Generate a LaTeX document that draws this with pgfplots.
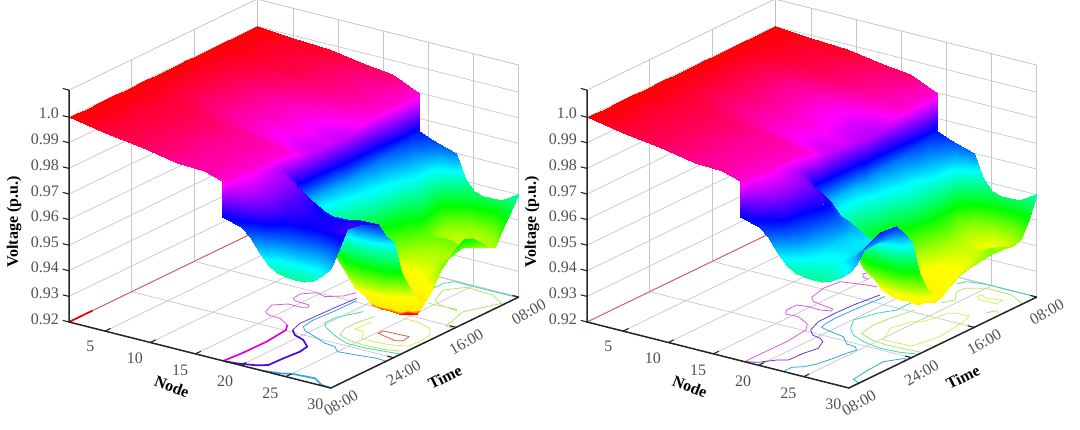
\documentclass[border=0pt]{standalone}
\usepackage{fontspec}
\setmainfont{Liberation Serif}
\usepackage{pgfplots}
\pgfplotsset{compat=1.18}
\definecolor{cMag}{RGB}{224,90,224}
\definecolor{cMagT}{RGB}{230,0,210}
\definecolor{cVio}{RGB}{100,50,225}
\definecolor{cVioT}{RGB}{70,10,225}
\definecolor{cCya}{RGB}{50,165,225}
\definecolor{cTea}{RGB}{70,215,175}
\definecolor{cLim}{RGB}{170,232,105}
\definecolor{cYel}{RGB}{215,236,95}
\definecolor{cRed}{RGB}{225,85,85}
\definecolor{tk}{RGB}{80,80,80}
\pgfplotsset{panel/.style={
  anchor=origin, clip=false, axis lines=box,
  x={(9.03pt,-2.276pt)}, y={(7.83pt,3.79pt)}, z={(0pt,2560pt)},
  xmin=1,xmax=30,ymin=0,ymax=24,zmin=.92,zmax=1.0106,
  xtick={5,10,15,20,25,30}, xticklabels={5,10,15,20,25,30},
  ytick={0,8,16,24}, yticklabels={08:00,24:00,16:00,08:00},
  ztick={.92,.93,.94,.95,.96,.97,.98,.99,1}, zticklabels={0.92,0.93,0.94,0.95,0.96,0.97,0.98,0.99,1.0},
  grid=major, major grid style={draw=black!22,line width=.7pt},
  axis line style={draw=black!25,line width=.7pt},
  major tick length=0pt,
  tick label style={font=\fontsize{16}{16}\selectfont,text=tk},
  xticklabel style={xshift=-9pt,yshift=-6pt},
  yticklabel style={rotate=30,yshift=-9pt},
  zticklabel style={xshift=-6.5pt,yshift=5pt},
  label style={font=\fontsize{16}{16}\selectfont\bfseries},
  xlabel=Node, ylabel=Time, zlabel={Voltage (p.u.)},
  xlabel style={at={(axis cs:18.28,-6.78,.92)},anchor=center,rotate=-21},
  ylabel style={at={(axis cs:36.65,6.9,.92)},anchor=center,rotate=-63},
  zlabel style={at={(axis cs:-3,-2.4,.959)},anchor=center,rotate=0},
  colormap={hsvr}{rgb255(0)=(255,0,0) rgb255(30)=(255,0,0) rgb255(50)=(255,235,0) rgb255(121)=(255,255,0) rgb255(242)=(0,255,0) rgb255(363)=(0,255,255) rgb255(484)=(0,0,255) rgb255(605)=(255,0,255) rgb255(725)=(255,0,0)},
  point meta min=.9275, point meta max=1,
},
sf/.style={surf,shader=interp,z buffer=sort,mesh/rows=23,mesh/cols=18,opacity=1},
cl/.style={line width=.8pt,no marks,line join=round},
ct/.style={line width=1.7pt,no marks,line join=round}}
\newcommand\deco{%
 \draw[black!85,line width=1.5pt] (axis cs:1,0,1.0106)--(axis cs:1,0,.92)--(axis cs:30,0,.92)--(axis cs:30,24,.92);
 \draw[black!85,line width=1.1pt] (axis cs:5,0,.92)--(axis cs:5,.7,.92) (axis cs:10,0,.92)--(axis cs:10,.7,.92) (axis cs:15,0,.92)--(axis cs:15,.7,.92) (axis cs:20,0,.92)--(axis cs:20,.7,.92) (axis cs:25,0,.92)--(axis cs:25,.7,.92)
 (axis cs:30,8,.92)--(axis cs:29.3,8,.92) (axis cs:30,16,.92)--(axis cs:29.3,16,.92) (axis cs:30,24,.92)--(axis cs:29.3,24,.92)
 (axis cs:1,0,.92)--(axis cs:.3,0,.92) (axis cs:1,0,.93)--(axis cs:.3,0,.93) (axis cs:1,0,.94)--(axis cs:.3,0,.94) (axis cs:1,0,.95)--(axis cs:.3,0,.95) (axis cs:1,0,.96)--(axis cs:.3,0,.96) (axis cs:1,0,.97)--(axis cs:.3,0,.97) (axis cs:1,0,.98)--(axis cs:.3,0,.98) (axis cs:1,0,.99)--(axis cs:.3,0,.99) (axis cs:1,0,1)--(axis cs:.3,0,1) (axis cs:1,0,1.0106)--(axis cs:.3,0,1.0106);
}
\begin{document}
\begin{tikzpicture}[x=1pt,y=1pt]
\useasboundingbox (0,0) rectangle (1080,429);
\begin{axis}[panel,at={(69pt,107pt)}]
\addplot3[cl,cRed] table[row sep=\\]{x y z\\1 0 .92\\1 24 .92\\};
\addplot3[ct,red!90!black] table[row sep=\\]{x y z\\1 0 .92\\1 3 .92\\};
\addplot3[ct,cMagT] table[row sep=\\]{x y z\\18.09 0 .92\\18.3 2.3 .92\\18.35 5.24 .92\\18 8.1 .92\\17.35 9.03 .92\\};
\addplot3[cl,cMag] table[row sep=\\]{x y z\\17.35 9.03 .92\\15.81 9.87 .92\\14.46 9.93 .92\\13.76 10.39 .92\\13.2 11.81 .92\\14.26 12.71 .92\\15.73 12.72 .92\\16.22 13.01 .92\\15.92 13.45 .92\\14.25 13.58 .92\\13.78 13.92 .92\\13.6 14.96 .92\\14.61 15.92 .92\\15.82 15.59 .92\\17.06 16.51 .92\\17.53 17.67 .92\\};
\addplot3[ct,cVioT] table[row sep=\\]{x y z\\18.3 0 .92\\19.43 .16 .92\\21.19 .69 .92\\21.99 1.26 .92\\22.08 3.07 .92\\22.28 4.95 .92\\22.06 6.14 .92\\20.77 7.13 .92\\19.41 7.62 .92\\18.49 8.39 .92\\};
\addplot3[cl,cVio] table[row sep=\\]{x y z\\18.49 8.39 .92\\18.02 9.87 .92\\18.1 11.68 .92\\18.19 13.93 .92\\18.39 16.69 .92\\};
\addplot3[ct,cCya] table[row sep=\\]{x y z\\22.38 0 .92\\24.08 .32 .92\\25.16 .79 .92\\27.39 .99 .92\\28.88 .12 .92\\30 0 .92\\};
\addplot3[cl,cCya] table[row sep=\\]{x y z\\18.74 16.28 .92\\18.69 13.35 .92\\18.49 11.04 .92\\18.76 9.44 .92\\19.49 8.82 .92\\21.12 8.21 .92\\22.85 7.5 .92\\24.08 7.35 .92\\25 6.58 .92\\26.91 6.85 .92\\28.87 7.16 .92\\30 7.05 .92\\};
\addplot3[cl,cTea] table[row sep=\\]{x y z\\20.87 14.66 .92\\19.79 12.52 .92\\19.74 11.08 .92\\20.51 10.31 .92\\22.42 9.26 .92\\24.43 8.44 .92\\26.64 8.45 .92\\28.59 8.74 .92\\29.91 8.93 .92\\};
\addplot3[cl,cTea] table[row sep=\\]{x y z\\22.46 21.77 .92\\22.44 23.08 .92\\23.04 23.88 .92\\24.73 23.84 .92\\29.88 23.86 .92\\};
\addplot3[cl,cLim] table[row sep=\\]{x y z\\22.47 14.31 .92\\22.05 12.46 .92\\22.05 10.97 .92\\22.69 9.6 .92\\24.27 9.05 .92\\25.9 8.89 .92\\28 9 .92\\29.46 9.45 .92\\};
\addplot3[cl,cYel] table[row sep=\\]{x y z\\23 13.3 .92\\22.93 11.24 .92\\23.89 11.2 .92\\24.76 9.96 .92\\26.12 9.9 .92\\27.96 10.12 .92\\29.32 10.67 .92\\29.52 11.94 .92\\29.24 13.53 .92\\28.24 14.69 .92\\26.27 15.27 .92\\24.79 15.25 .92\\};
\addplot3[cl,cRed] table[row sep=\\]{x y z\\25.23 11.56 .92\\25.24 12.19 .92\\27.98 12.34 .92\\28.16 11.38 .92\\27.55 11.02 .92\\25.23 11.56 .92\\};
\addplot3[cl,cLim] table[row sep=\\]{x y z\\24.36 18.96 .92\\27.32 19.16 .92\\27.52 18.92 .92\\25.46 19.18 .92\\24.34 19.83 .92\\23.44 21.92 .92\\24.74 23.4 .92\\27.78 23.21 .92\\29.7 22.16 .92\\28.16 19.04 .92\\29.05 15.79 .92\\30 15.7 .92\\};
\addplot3[sf] table[row sep=\\]{x y z\\
1 0 1\\5 0 .9972\\9 0 .9955\\13 0 .9927\\16 0 .9925\\17.9 0 .99\\17.9 0 .976\\20 0 .974\\21 0 .971\\22 0 .966\\23 0 .962\\24 0 .9595\\25 0 .959\\26 0 .9587\\27 0 .9587\\28 0 .96\\29 0 .963\\30 0 .967\\
1 1 1\\5 1 .9975\\9 1 .9957\\13 1 .9932\\16 1 .9918\\18 1 .99\\18 1 .986\\20 1 .982\\21 1 .98\\22 1 .978\\23 1 .975\\24 1 .972\\25 1 .97\\26 1 .969\\27 1 .968\\28 1 .968\\29 1 .97\\30 1 .973\\
1 2 1\\5 2 .9975\\9 2 .9957\\13 2 .9932\\16 2 .9918\\18 2 .99\\18 2 .988\\20 2 .984\\21 2 .982\\22 2 .98\\23 2 .978\\24 2 .977\\25 2 .976\\26 2 .976\\27 2 .976\\28 2 .977\\29 2 .978\\30 2 .979\\
1 4 1\\5 4 .9975\\9 4 .9957\\13 4 .9932\\16 4 .9918\\18.2 4 .99\\18.2 4 .988\\20 4 .984\\21 4 .982\\22 4 .98\\23 4 .979\\24 4 .978\\25 4 .977\\26 4 .977\\27 4 .977\\28 4 .977\\29 4 .978\\30 4 .978\\
1 6 1\\5 6 .9975\\9 6 .9957\\13 6 .9932\\16 6 .9918\\18.2 6 .99\\18.2 6 .986\\20 6 .983\\21 6 .981\\22 6 .979\\23 6 .977\\24 6 .975\\25 6 .974\\26 6 .974\\27 6 .974\\28 6 .975\\29 6 .975\\30 6 .975\\
1 7 1\\5 7 .9975\\9 7 .9957\\13 7 .9932\\16 7 .9918\\18.2 7 .99\\18.2 7 .985\\20 7 .981\\21 7 .978\\22 7 .975\\23 7 .973\\24 7 .971\\25 7 .968\\26 7 .968\\27 7 .967\\28 7 .968\\29 7 .968\\30 7 .969\\
1 8 1\\5 8 .9975\\9 8 .9957\\13 8 .9932\\16 8 .9918\\18.2 8 .99\\18.2 8 .981\\20 8 .973\\21 8 .969\\22 8 .966\\23 8 .964\\24 8 .961\\25 8 .961\\26 8 .96\\27 8 .961\\28 8 .962\\29 8 .963\\30 8 .965\\
1 9 1\\5 9 .9973\\9 9 .9946\\13 9 .9919\\16 9 .9899\\18.5 9 .9882\\18.5 9 .974\\20 9 .966\\21 9 .964\\22 9 .961\\23 9 .955\\24 9 .947\\25 9 .944\\26 9 .943\\27 9 .943\\28 9 .944\\29 9 .948\\30 9 .952\\
1 10 1\\5 10 .9969\\9 10 .9937\\13 10 .9906\\16 10 .9882\\18.5 10 .9862\\18.5 10 .967\\20 10 .961\\21 10 .957\\22 10 .949\\23 10 .944\\24 10 .939\\25 10 .937\\26 10 .937\\27 10 .938\\28 10 .939\\29 10 .941\\30 10 .945\\
1 11 1\\5 11 .9966\\9 11 .9932\\13 11 .9898\\16 11 .9873\\18.5 11 .9852\\18.5 11 .967\\20 11 .958\\21 11 .951\\22 11 .9456\\23 11 .941\\24 11 .936\\25 11 .9315\\26 11 .931\\27 11 .931\\28 11 .931\\29 11 .934\\30 11 .938\\
1 12 1\\5 12 .9965\\9 12 .993\\13 12 .9894\\16 12 .9868\\18.5 12 .9846\\18.5 12 .967\\20 12 .958\\21 12 .952\\22 12 .9455\\23 12 .94\\24 12 .933\\25 12 .93\\26 12 .93\\27 12 .9295\\28 12 .9295\\29 12 .93\\30 12 .936\\
1 13 1\\5 13 .9969\\9 13 .9937\\13 13 .9906\\16 13 .9882\\18.5 13 .9862\\18.5 13 .968\\20 13 .96\\21 13 .953\\22 13 .947\\23 13 .94\\24 13 .936\\25 13 .933\\26 13 .9325\\27 13 .9325\\28 13 .9325\\29 13 .936\\30 13 .94\\
1 14 1\\5 14 .9966\\9 14 .9932\\13 14 .9898\\16 14 .9873\\18.5 14 .9852\\18.5 14 .968\\20 14 .961\\21 14 .955\\22 14 .946\\23 14 .942\\24 14 .938\\25 14 .937\\26 14 .937\\27 14 .938\\28 14 .939\\29 14 .942\\30 14 .945\\
1 15 1\\5 15 .9966\\9 15 .9932\\13 15 .9898\\16 15 .9873\\18.7 15 .9852\\18.7 15 .968\\20 15 .963\\21 15 .959\\22 15 .949\\23 15 .944\\24 15 .941\\25 15 .939\\26 15 .939\\27 15 .94\\28 15 .941\\29 15 .944\\30 15 .948\\
1 16 1\\5 16 .9969\\9 16 .9937\\13 16 .9906\\16 16 .9882\\18.7 16 .9862\\18.7 16 .969\\20 16 .964\\21 16 .961\\22 16 .952\\23 16 .9465\\24 16 .944\\25 16 .9425\\26 16 .942\\27 16 .942\\28 16 .943\\29 16 .9456\\30 16 .951\\
1 17 1\\5 17 .9973\\9 17 .9946\\13 17 .9918\\16 17 .9898\\18.7 17 .9881\\18.7 17 .969\\20 17 .964\\21 17 .961\\22 17 .953\\23 17 .949\\24 17 .9455\\25 17 .9435\\26 17 .943\\27 17 .943\\28 17 .9435\\29 17 .9465\\30 17 .953\\
1 18 1\\5 18 .9976\\9 18 .9952\\13 18 .993\\16 18 .9912\\18.7 18 .9894\\18.7 18 .97\\20 18 .965\\21 18 .962\\22 18 .955\\23 18 .951\\24 18 .947\\25 18 .9445\\26 18 .944\\27 18 .944\\28 18 .9445\\29 18 .9475\\30 18 .952\\
1 19 1\\5 19 .998\\9 19 .9965\\13 19 .9942\\16 19 .9925\\18.7 19 .99\\18.7 19 .97\\20 19 .966\\21 19 .963\\22 19 .957\\23 19 .953\\24 19 .948\\25 19 .9465\\26 19 .947\\27 19 .9465\\28 19 .945\\29 19 .946\\30 19 .949\\
1 20 1\\5 20 .998\\9 20 .9965\\13 20 .9942\\16 20 .9925\\18.9 20 .99\\18.9 20 .971\\20 20 .967\\21 20 .964\\22 20 .961\\23 20 .955\\24 20 .9456\\25 20 .9435\\26 20 .943\\27 20 .943\\28 20 .9435\\29 20 .9445\\30 20 .946\\
1 21 1\\5 21 .998\\9 21 .9965\\13 21 .9942\\16 21 .9925\\18.9 21 .99\\18.9 21 .972\\20 21 .968\\21 21 .965\\22 21 .961\\23 21 .952\\24 21 .944\\25 21 .943\\26 21 .942\\27 21 .942\\28 21 .942\\29 21 .943\\30 21 .944\\
1 22 1\\5 22 .998\\9 22 .9965\\13 22 .9942\\16 22 .9925\\18.9 22 .99\\18.9 22 .973\\20 22 .969\\21 22 .966\\22 22 .96\\23 22 .95\\24 22 .9445\\25 22 .9435\\26 22 .943\\27 22 .943\\28 22 .944\\29 22 .9445\\30 22 .95\\
1 23 1\\5 23 .9985\\9 23 .9975\\13 23 .995\\16 23 .9935\\18.9 23 .99\\18.9 23 .974\\20 23 .971\\21 23 .968\\22 23 .962\\23 23 .957\\24 23 .951\\25 23 .946\\26 23 .945\\27 23 .945\\28 23 .946\\29 23 .951\\30 23 .955\\
1 24 1\\5 24 .9988\\9 24 .9982\\13 24 .9958\\16 24 .9945\\19 24 .99\\19 24 .975\\20 24 .9735\\21 24 .972\\22 24 .971\\23 24 .97\\24 24 .961\\25 24 .957\\26 24 .956\\27 24 .956\\28 24 .956\\29 24 .958\\30 24 .9606\\
};
\deco
\end{axis}
\begin{axis}[panel,at={(587pt,107pt)}]
\addplot3[cl,cRed] table[row sep=\\]{x y z\\1 0 .92\\1 24 .92\\};
\addplot3[cl,cMag] table[row sep=\\]{x y z\\18.46 0 .92\\18.45 2.4 .92\\18.5 5.33 .92\\18.15 8.19 .92\\17.35 9.29 .92\\15.58 10.17 .92\\14.26 10.08 .92\\13.73 10.82 .92\\13.71 12.12 .92\\14.81 12.34 .92\\16.16 12.27 .92\\17.16 12.61 .92\\16.93 13 .92\\14.43 13.43 .92\\13.64 14.11 .92\\13.14 16.18 .92\\13.36 18.07 .92\\15.8 18.65 .92\\16.78 18.8 .92\\};
\addplot3[cl,cMag] table[row sep=\\]{x y z\\15.07 19.71 .92\\14.4 19.84 .92\\13.85 20.39 .92\\14.06 20.87 .92\\};
\addplot3[cl,cVio] table[row sep=\\]{x y z\\18.46 0 .92\\19.55 .5 .92\\20.54 1.71 .92\\21.39 2.22 .92\\21.47 4.02 .92\\21.81 5.55 .92\\21.13 6.9 .92\\20.43 7.36 .92\\19.39 7.61 .92\\18.49 8.39 .92\\17.8 10.18 .92\\17.75 12.35 .92\\17.84 14.6 .92\\18.27 17.5 .92\\};
\addplot3[cl,cCya] table[row sep=\\]{x y z\\22.75 0 .92\\22.73 1.09 .92\\23.48 1.71 .92\\24.05 2.76 .92\\24.41 4.48 .92\\24.64 6.11 .92\\24.85 6.94 .92\\24.23 7.44 .92\\23.22 7.54 .92\\21.88 8.66 .92\\20.76 8.88 .92\\19.66 9.09 .92\\18.89 9.34 .92\\18.64 10.06 .92\\18.51 11.49 .92\\18.59 13.73 .92\\18.88 17.43 .92\\};
\addplot3[cl,cCya] table[row sep=\\]{x y z\\30 1.3 .92\\29.03 1.7 .92\\28.71 3.98 .92\\28.55 6.08 .92\\29.63 7.61 .92\\30 7.19 .92\\};
\addplot3[cl,cTea] table[row sep=\\]{x y z\\21.69 18.68 .92\\21.74 15.63 .92\\20.79 14.17 .92\\20.1 12 .92\\21.15 10.43 .92\\22.35 9.39 .92\\24.08 8.68 .92\\26.3 8.25 .92\\28.36 8.43 .92\\29.82 8.87 .92\\};
\addplot3[cl,cTea] table[row sep=\\]{x y z\\22.2 22.76 .92\\22.58 23.61 .92\\24.39 24 .92\\29.81 24 .92\\};
\addplot3[cl,cLim] table[row sep=\\]{x y z\\23.08 16.43 .92\\22.51 13.89 .92\\22.31 12.01 .92\\22.71 10.05 .92\\24.45 9.33 .92\\25.9 9.15 .92\\28.05 9.21 .92\\29.76 9.36 .92\\};
\addplot3[cl,cLim] table[row sep=\\]{x y z\\23.92 18.87 .92\\24.49 19.92 .92\\23.35 21.43 .92\\23.46 22.38 .92\\25.04 23.32 .92\\27.86 23.26 .92\\29.85 22.25 .92\\};
\addplot3[cl,cYel] table[row sep=\\]{x y z\\25.3 9.85 .92\\24.02 12.16 .92\\24.6 14.26 .92\\25.45 14.77 .92\\26.01 17.31 .92\\26.61 17.67 .92\\27.94 17.77 .92\\28.36 16.52 .92\\28.91 12.89 .92\\28.26 10.03 .92\\25.3 9.85 .92\\};
\addplot3[cl,cYel] table[row sep=\\]{x y z\\25.61 21.47 .92\\25.67 21.95 .92\\26.54 21.58 .92\\27.96 22 .92\\28.13 21.04 .92\\26.08 21.05 .92\\25.61 21.47 .92\\};
\addplot3[cl,cLim] table[row sep=\\]{x y z\\28.7 19.1 .92\\29.13 19.88 .92\\30 19.28 .92\\};
\addplot3[sf] table[row sep=\\]{x y z\\
1 0 1\\5 0 .9972\\9 0 .9955\\13 0 .9927\\16 0 .9925\\17.9 0 .99\\17.9 0 .976\\20 0 .974\\21 0 .971\\22 0 .966\\23 0 .962\\24 0 .9595\\25 0 .959\\26 0 .9587\\27 0 .9587\\28 0 .96\\29 0 .962\\30 0 .965\\
1 1 1\\5 1 .9975\\9 1 .9957\\13 1 .9932\\16 1 .9918\\18 1 .99\\18 1 .986\\20 1 .979\\21 1 .976\\22 1 .972\\23 1 .9675\\24 1 .964\\25 1 .962\\26 1 .961\\27 1 .961\\28 1 .962\\29 1 .964\\30 1 .967\\
1 2 1\\5 2 .9975\\9 2 .9957\\13 2 .9932\\16 2 .9918\\18 2 .99\\18 2 .988\\20 2 .983\\21 2 .98\\22 2 .974\\23 2 .971\\24 2 .967\\25 2 .964\\26 2 .963\\27 2 .963\\28 2 .965\\29 2 .968\\30 2 .972\\
1 4 1\\5 4 .9975\\9 4 .9957\\13 4 .9932\\16 4 .9918\\18.2 4 .99\\18.2 4 .988\\20 4 .984\\21 4 .98\\22 4 .976\\23 4 .973\\24 4 .969\\25 4 .966\\26 4 .965\\27 4 .965\\28 4 .966\\29 4 .969\\30 4 .975\\
1 6 1\\5 6 .9975\\9 6 .9957\\13 6 .9932\\16 6 .9918\\18.2 6 .99\\18.2 6 .986\\20 6 .982\\21 6 .98\\22 6 .978\\23 6 .974\\24 6 .97\\25 6 .966\\26 6 .965\\27 6 .965\\28 6 .966\\29 6 .969\\30 6 .9745\\
1 7 1\\5 7 .9975\\9 7 .9957\\13 7 .9932\\16 7 .9918\\18.2 7 .99\\18.2 7 .985\\20 7 .98\\21 7 .978\\22 7 .975\\23 7 .971\\24 7 .969\\25 7 .967\\26 7 .965\\27 7 .964\\28 7 .965\\29 7 .967\\30 7 .97\\
1 8 1\\5 8 .9975\\9 8 .9957\\13 8 .9932\\16 8 .9918\\18.2 8 .99\\18.2 8 .981\\20 8 .971\\21 8 .969\\22 8 .966\\23 8 .963\\24 8 .961\\25 8 .959\\26 8 .958\\27 8 .958\\28 8 .958\\29 8 .96\\30 8 .965\\
1 9 1\\5 9 .9973\\9 9 .9947\\13 9 .992\\16 9 .99\\18.5 9 .9884\\18.5 9 .974\\20 9 .965\\21 9 .963\\22 9 .96\\23 9 .955\\24 9 .949\\25 9 .947\\26 9 .9465\\27 9 .9465\\28 9 .9465\\29 9 .949\\30 9 .952\\
1 10 1\\5 10 .9969\\9 10 .9937\\13 10 .9906\\16 10 .9882\\18.5 10 .9862\\18.5 10 .967\\20 10 .962\\21 10 .959\\22 10 .951\\23 10 .9456\\24 10 .943\\25 10 .939\\26 10 .9375\\27 10 .937\\28 10 .9375\\29 10 .94\\30 10 .944\\
1 11 1\\5 11 .9966\\9 11 .9932\\13 11 .9898\\16 11 .9873\\18.5 11 .9852\\18.5 11 .967\\20 11 .961\\21 11 .957\\22 11 .949\\23 11 .945\\24 11 .941\\25 11 .937\\26 11 .9355\\27 11 .935\\28 11 .9345\\29 11 .9365\\30 11 .941\\
1 12 1\\5 12 .9966\\9 12 .9932\\13 12 .9898\\16 12 .9873\\18.5 12 .9852\\18.5 12 .967\\20 12 .959\\21 12 .954\\22 12 .947\\23 12 .944\\24 12 .9395\\25 12 .936\\26 12 .935\\27 12 .9345\\28 12 .9345\\29 12 .9345\\30 12 .9385\\
1 13 1\\5 13 .9969\\9 13 .9937\\13 13 .9906\\16 13 .9882\\18.5 13 .9862\\18.5 13 .967\\20 13 .96\\21 13 .955\\22 13 .948\\23 13 .9445\\24 13 .9405\\25 13 .9365\\26 13 .9355\\27 13 .9355\\28 13 .9355\\29 13 .9365\\30 13 .941\\
1 14 1\\5 14 .9966\\9 14 .9932\\13 14 .9898\\16 14 .9873\\18.5 14 .9852\\18.5 14 .967\\20 14 .96\\21 14 .957\\22 14 .949\\23 14 .945\\24 14 .941\\25 14 .938\\26 14 .937\\27 14 .937\\28 14 .9375\\29 14 .939\\30 14 .9425\\
1 15 1\\5 15 .9964\\9 15 .9928\\13 15 .9892\\16 15 .9865\\18.7 15 .9843\\18.7 15 .968\\20 15 .962\\21 15 .958\\22 15 .951\\23 15 .9465\\24 15 .9425\\25 15 .9395\\26 15 .9385\\27 15 .9385\\28 15 .9385\\29 15 .94\\30 15 .944\\
1 16 1\\5 16 .9964\\9 16 .9928\\13 16 .9892\\16 16 .9865\\18.7 16 .9843\\18.7 16 .969\\20 16 .963\\21 16 .96\\22 16 .954\\23 16 .947\\24 16 .9435\\25 16 .941\\26 16 .939\\27 16 .939\\28 16 .939\\29 16 .9415\\30 16 .9445\\
1 17 1\\5 17 .9964\\9 17 .9928\\13 17 .9892\\16 17 .9865\\18.7 17 .9843\\18.7 17 .969\\20 17 .964\\21 17 .961\\22 17 .957\\23 17 .949\\24 17 .9445\\25 17 .942\\26 17 .9402\\27 17 .9395\\28 17 .94\\29 17 .9425\\30 17 .945\\
1 18 1\\5 18 .9968\\9 18 .9935\\13 18 .99\\16 18 .9876\\18.7 18 .9855\\18.7 18 .97\\20 18 .965\\21 18 .962\\22 18 .958\\23 18 .951\\24 18 .9455\\25 18 .9425\\26 18 .9412\\27 18 .941\\28 18 .9415\\29 18 .9435\\30 18 .9455\\
1 19 1\\5 19 .9975\\9 19 .995\\13 19 .9925\\16 19 .9905\\18.7 19 .9885\\18.7 19 .97\\20 19 .966\\21 19 .962\\22 19 .958\\23 19 .951\\24 19 .9465\\25 19 .943\\26 19 .942\\27 19 .942\\28 19 .943\\29 19 .9455\\30 19 .9455\\
1 20 1\\5 20 .998\\9 20 .9965\\13 20 .9942\\16 20 .9925\\18.9 20 .99\\18.9 20 .971\\20 20 .967\\21 20 .964\\22 20 .959\\23 20 .951\\24 20 .9457\\25 20 .943\\26 20 .942\\27 20 .942\\28 20 .943\\29 20 .9445\\30 20 .9455\\
1 21 1\\5 21 .998\\9 21 .9965\\13 21 .9942\\16 21 .9925\\18.9 21 .99\\18.9 21 .972\\20 21 .968\\21 21 .965\\22 21 .96\\23 21 .95\\24 21 .9452\\25 21 .9425\\26 21 .9405\\27 21 .9405\\28 21 .94\\29 21 .9425\\30 21 .9445\\
1 22 1\\5 22 .998\\9 22 .9965\\13 22 .9942\\16 22 .9925\\18.9 22 .99\\18.9 22 .973\\20 22 .969\\21 22 .966\\22 22 .96\\23 22 .947\\24 22 .9443\\25 22 .9425\\26 22 .941\\27 22 .9395\\28 22 .94\\29 22 .943\\30 22 .9455\\
1 23 1\\5 23 .9985\\9 23 .9975\\13 23 .995\\16 23 .9935\\18.9 23 .99\\18.9 23 .974\\20 23 .971\\21 23 .968\\22 23 .962\\23 23 .954\\24 23 .947\\25 23 .9455\\26 23 .944\\27 23 .944\\28 23 .9445\\29 23 .948\\30 23 .952\\
1 24 1\\5 24 .9988\\9 24 .9982\\13 24 .9958\\16 24 .9945\\19 24 .99\\19 24 .975\\20 24 .9735\\21 24 .972\\22 24 .971\\23 24 .97\\24 24 .961\\25 24 .957\\26 24 .956\\27 24 .956\\28 24 .956\\29 24 .958\\30 24 .9606\\
};
\deco
\end{axis}
\end{tikzpicture}
\end{document}
